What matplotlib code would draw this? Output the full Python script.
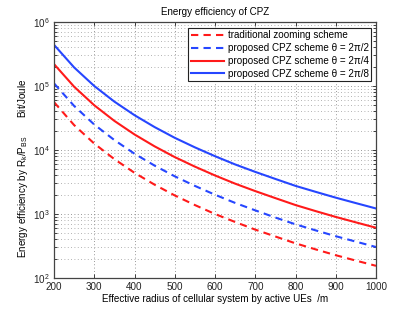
import matplotlib
matplotlib.use("Agg")
import matplotlib.pyplot as plt
import numpy as np

plt.rcParams['font.family'] = ['Liberation Sans', 'DejaVu Sans']
plt.rcParams['mathtext.fontset'] = 'custom'
plt.rcParams['mathtext.rm'] = 'Liberation Sans'
plt.rcParams['mathtext.it'] = 'Liberation Sans'

radius = [200, 250, 300, 350, 400, 450, 500, 550, 600, 650, 700, 750, 800, 850, 900, 950, 1000]
cpz_8 = [4.4e5, 1.95e5, 1.0e5, 5.7e4, 3.5e4, 2.28e4, 1.55e4, 1.1e4, 8.0e3, 5.95e3, 4.55e3,
         3.53e3, 2.75e3, 2.22e3, 1.8e3, 1.48e3, 1.22e3]
cpz_4 = [2.2e5, 9.75e4, 5.0e4, 2.85e4, 1.75e4, 1.14e4, 7.75e3, 5.5e3, 4.0e3, 2.98e3, 2.28e3,
         1.77e3, 1.38e3, 1.11e3, 9.0e2, 7.4e2, 6.1e2]
cpz_2 = [1.1e5, 4.88e4, 2.5e4, 1.43e4, 8.75e3, 5.7e3, 3.88e3, 2.75e3, 2.0e3, 1.49e3, 1.14e3,
         8.8e2, 6.9e2, 5.55e2, 4.5e2, 3.7e2, 3.05e2]
traditional = [5.6e4, 2.45e4, 1.26e4, 7.2e3, 4.4e3, 2.87e3, 1.95e3, 1.38e3, 1.0e3, 7.5e2, 5.7e2,
               4.45e2, 3.48e2, 2.8e2, 2.27e2, 1.87e2, 1.55e2]

labels = ['traditional zooming scheme',
          'proposed CPZ scheme θ = 2π/2',
          'proposed CPZ scheme θ = 2π/4',
          'proposed CPZ scheme θ = 2π/8']

red = '#ff1a1a'
blue = '#2646ff'

fs = 7.1

fig = plt.figure(figsize=(4.15, 3.13), dpi=100)
ax = fig.add_axes([54/415, 1-278/313, 322/415, 256/313])

ax.semilogy(radius, traditional, '--', color=red, lw=1.5, dashes=(3.5, 2.5), label=labels[0])
ax.semilogy(radius, cpz_2, '--', color=blue, lw=1.5, dashes=(3.5, 2.5), label=labels[1])
ax.semilogy(radius, cpz_4, '-', color=red, lw=1.5, label=labels[2])
ax.semilogy(radius, cpz_8, '-', color=blue, lw=1.5, label=labels[3])

ax.set_xlim(200, 1000)
ax.set_ylim(1e2, 1e6)
ax.set_xticks([200, 300, 400, 500, 600, 700, 800, 900, 1000])
ax.grid(True, which='major', linestyle=(0, (1, 3)), color='#777777', lw=0.6)
ax.grid(True, which='minor', axis='y', linestyle=(0, (1, 3)), color='#999999', lw=0.6)
ax.tick_params(which='both', direction='in', top=True, right=True, labelsize=fs,
               colors='#222222', length=3, width=0.6, pad=3)
ax.tick_params(which='minor', length=2)
for s in ax.spines.values():
    s.set_color('#444444')
    s.set_linewidth(0.9)

ax.set_title('Energy efficiency of CPZ', fontsize=fs, pad=5)
ax.set_xlabel('Effective radius of cellular system by active UEs  /m', fontsize=fs, labelpad=1)
ax.set_ylabel(r'Energy efficiency by R$_{\mathrm{k}}$/P$_{\mathrm{BS}}$       Bit/Joule', fontsize=fs)
ax.yaxis.set_label_coords(-0.075, 0.43)

leg = ax.legend(loc='upper right', fontsize=fs, handlelength=3.4, fancybox=False,
                framealpha=1, edgecolor='#222222', bbox_to_anchor=(1 - 5/322, 1 - 6/256),
                borderaxespad=0, labelspacing=0.28, borderpad=0.25, handletextpad=0.35)
leg.get_frame().set_linewidth(0.8)

fig.savefig('out.png', dpi=100)
